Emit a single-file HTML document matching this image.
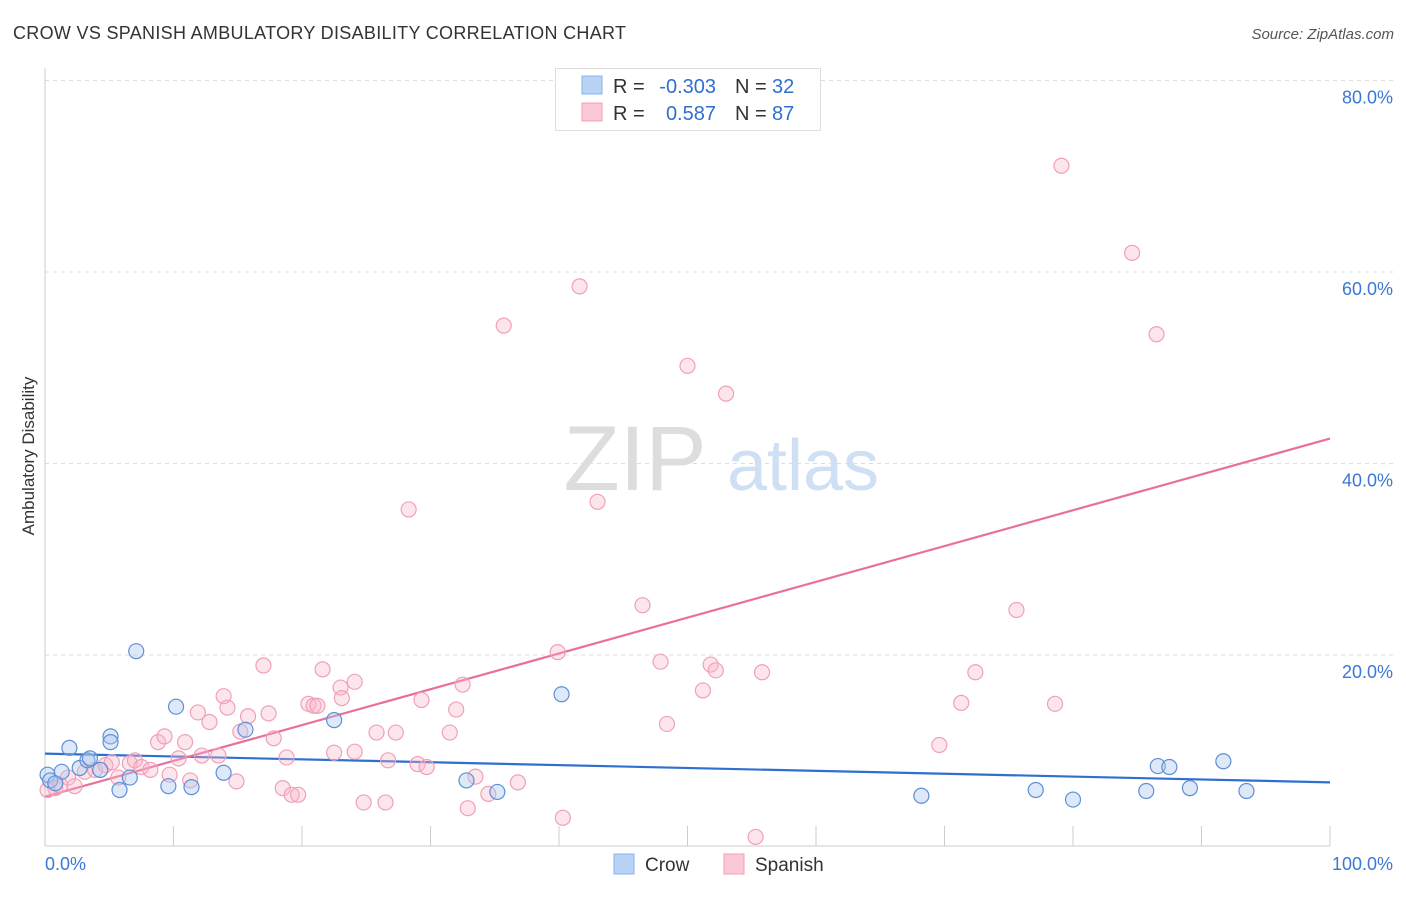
<!DOCTYPE html>
<html><head><meta charset="utf-8"><style>
body{margin:0;background:#fff;font-family:"Liberation Sans",sans-serif;}
svg text{font-family:"Liberation Sans",sans-serif;}
</style></head><body>
<svg id="chart" width="1406" height="892" xmlns="http://www.w3.org/2000/svg">
<text x="13" y="39" font-size="18" fill="#333" textLength="613">CROW VS SPANISH AMBULATORY DISABILITY CORRELATION CHART</text>
<text x="1394" y="39" font-size="15" fill="#555" text-anchor="end" font-style="italic">Source: ZipAtlas.com</text>
<text transform="translate(34,456) rotate(-90)" font-size="17" fill="#333" text-anchor="middle">Ambulatory Disability</text>
<g><text x="635" y="490" font-size="92" fill="#ddd" text-anchor="middle" font-family="Liberation Serif, serif">ZIP</text><text x="803" y="490" font-size="72" fill="#cfe0f5" text-anchor="middle">atlas</text></g>
<g id="grid"></g><g id="axes"></g><g id="lines"></g><g id="pts"></g>
<g>
<rect x="555.5" y="68.5" width="265" height="62" fill="#fff" stroke="#ddd"/>
<rect x="582" y="76" width="20" height="18" fill="#b8d3f5" stroke="#8ab4e8"/>
<rect x="582" y="103" width="20" height="18" fill="#fbc8d6" stroke="#f0a0b8"/>
<text x="613" y="93" font-size="20" fill="#333">R =</text>
<text x="716" y="93" font-size="20" fill="#2f6fd0" text-anchor="end">-0.303</text>
<text x="735" y="93" font-size="20" fill="#333">N =</text>
<text x="772" y="93" font-size="20" fill="#2f6fd0">32</text>
<text x="613" y="120" font-size="20" fill="#333">R =</text>
<text x="716" y="120" font-size="20" fill="#2f6fd0" text-anchor="end">0.587</text>
<text x="735" y="120" font-size="20" fill="#333">N =</text>
<text x="772" y="120" font-size="20" fill="#2f6fd0">87</text>
</g>
<g>
<rect x="614" y="854" width="20" height="20" fill="#b8d3f5" stroke="#8ab4e8"/>
<text x="645" y="871" font-size="19" fill="#333">Crow</text>
<rect x="724" y="854" width="20" height="20" fill="#fbc8d6" stroke="#f0a0b8"/>
<text x="755" y="871" font-size="19" fill="#333">Spanish</text>
</g>
</svg>
<script>
const crowX=[0.2,1.3,1.9,2.7,3.3,4.3,5.1,5.1,5.8,6.6,7.1,9.6,10.2,11.4,13.9,15.6,22.5,32.8,35.2,40.2,68.2,77.1,80.0,85.7,86.6,87.5,89.1,91.7,93.5,0.4,3.5,0.8];
const crowY=[7.5,7.8,10.3,8.2,9.0,8.0,11.5,10.9,5.9,7.2,20.4,6.3,14.6,6.2,7.7,12.2,13.2,6.9,5.7,15.9,5.3,5.9,4.9,5.8,8.4,8.3,6.1,8.9,5.8,6.9,9.2,6.6];
const spanX=[0.2,0.8,1.2,1.8,2.3,3.1,3.9,4.7,5.2,5.7,6.6,7.0,7.5,8.2,8.8,9.3,9.7,10.4,10.9,11.3,11.9,12.2,12.8,13.5,13.9,14.2,14.9,15.2,15.8,17.0,17.4,17.8,18.5,18.8,19.2,19.7,20.5,20.9,21.2,21.6,22.5,23.0,23.1,24.1,24.1,24.8,25.8,26.5,26.7,27.3,28.3,29.0,29.3,29.7,31.5,32.0,32.5,32.9,33.5,34.5,35.7,36.8,39.9,40.3,41.6,43.0,46.5,47.9,48.4,50.0,51.2,51.8,52.2,53.0,55.3,55.8,69.6,71.3,72.4,75.6,78.6,79.1,84.6,86.5];
const spanY=[5.9,6.1,6.4,7.2,6.3,7.8,8.0,8.5,8.8,7.2,8.7,9.0,8.3,8.0,10.9,11.5,7.5,9.2,10.9,6.9,14.0,9.5,13.0,9.5,15.7,14.5,6.8,12.0,13.6,18.9,13.9,11.3,6.1,9.3,5.4,5.4,14.9,14.7,14.7,18.5,9.8,16.6,15.5,17.2,9.9,4.6,11.9,4.6,9.0,11.9,35.2,8.6,15.3,8.3,11.9,14.3,16.9,4.0,7.3,5.5,54.4,6.7,20.3,3.0,58.5,36.0,25.2,19.3,12.8,50.2,16.3,19.0,18.4,47.3,1.0,18.2,10.6,15.0,18.2,24.7,14.9,71.1,62.0,53.5];
const crowTrend=[9.7,6.7];
const spanTrend=[5.2,42.6];
const yTicks=[20,40,60,80];
const yTickLabels=["20.0%","40.0%","60.0%","80.0%"];
const NS="http://www.w3.org/2000/svg";
const X=v=>45+v*12.85, Y=v=>846.5-v*9.575;
function mk(p,t,a){const e=document.createElementNS(NS,t);for(const k in a)e.setAttribute(k,a[k]);document.getElementById(p).appendChild(e);return e;}
yTicks.forEach((t,i)=>{
 const g=mk('grid','line',{x1:45,x2:1393,y1:Y(t),y2:Y(t),stroke:'#ddd','stroke-dasharray':'4,4'});
 
 
 const l=mk('axes','text',{x:1393,y:Y(t)+23,'font-size':18,fill:'#3a78d4','text-anchor':'end'});
 l.textContent=yTickLabels[i];
 
 
});
const ya=mk('axes','line',{x1:45,x2:45,y1:68,y2:846,stroke:'#ccc'});


const xa=mk('axes','line',{x1:45,x2:1330,y1:846,y2:846,stroke:'#ccc'});


for(let i=0;i<=10;i++){const t=mk('axes','line',{x1:X(i*10),x2:X(i*10),y1:826,y2:846,stroke:'#ccc'});
 
 }
const x0=mk('axes','text',{x:45,y:870,'font-size':18,fill:'#3a78d4'});x0.textContent='0.0%';


const x1=mk('axes','text',{x:1393,y:870,'font-size':18,fill:'#3a78d4','text-anchor':'end'});x1.textContent='100.0%';


function pts(xs,ys,fill,stroke,name){xs.forEach((x,i)=>{const c=mk('pts','circle',{cx:X(x),cy:Y(ys[i]),r:7.5,fill:fill,stroke:stroke,'stroke-width':1.2});
 
 });}
pts(spanX,spanY,'rgba(248,180,200,0.35)','#f0a0b8','spanish-point');
pts(crowX,crowY,'rgba(170,200,240,0.4)','#5d8fd6','crow-point');
const lc=mk('lines','line',{x1:X(0),x2:X(100),y1:Y(crowTrend[0]),y2:Y(crowTrend[1]),stroke:'#2f6fd0','stroke-width':2.2});


const ls=mk('lines','line',{x1:X(0),x2:X(100),y1:Y(spanTrend[0]),y2:Y(spanTrend[1]),stroke:'#e8709a','stroke-width':2.2});


</script>
</body></html>
